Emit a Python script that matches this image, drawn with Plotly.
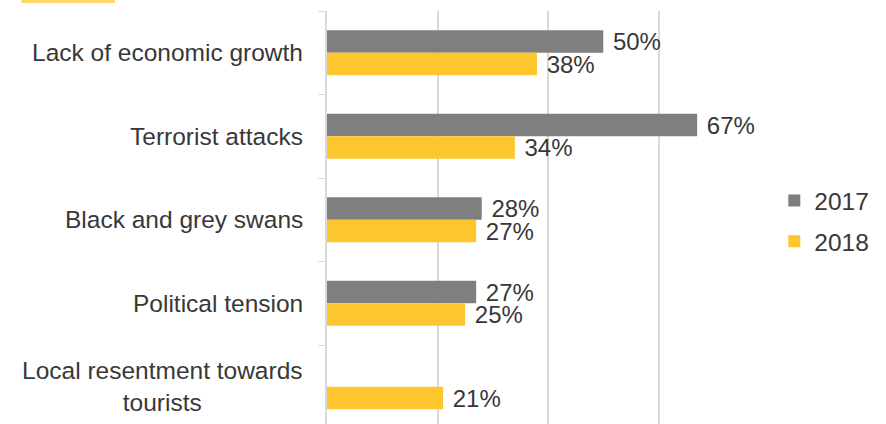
import plotly.graph_objects as go

categories = ["Lack of economic growth", "Terrorist attacks", "Black and grey swans",
              "Political tension", "Local resentment towards<br>tourists"]
values_2017 = [50, 67, 28, 27, None]
values_2018 = [38, 34, 27, 25, 21]
series_names = ["2017", "2018"]
colors = ["#7f7f7f", "#fec62e"]

FONT = "Liberation Sans, Arial, sans-serif"
TXT = "#383838"

fig = go.Figure()
for name, vals, col in zip(series_names, [values_2017, values_2018], colors):
    fig.add_trace(go.Bar(
        y=categories, x=vals, name=name, orientation="h",
        marker=dict(color=col, line=dict(width=0)),
        texttemplate=" %{x}%", textposition="outside", constraintext="none",
        cliponaxis=False, textfont=dict(family=FONT, size=24, color=TXT),
        legendgroup=name, hoverinfo="skip",
    ))

for c in categories:
    fig.add_annotation(x=0, xref="paper", y=c, yref="y", text=c, showarrow=False,
                       xanchor="right", yanchor="middle", align="center", xshift=-22,
                       font=dict(family=FONT, size=24.5, color=TXT))

fig.add_shape(type="rect", xref="paper", yref="paper", x0=-0.691, x1=-0.48,
              y0=1.0194, y1=1.03, fillcolor="#fed66a", line=dict(width=0), layer="above")

fig.update_layout(
    width=886, height=424,
    margin=dict(l=327, r=117, t=11, b=0, pad=0),
    plot_bgcolor="white", paper_bgcolor="white",
    barmode="group", bargap=0.461, bargroupgap=0,
    showlegend=True,
    legend=dict(x=1.012, xanchor="left", y=0.4915, yanchor="middle",
                font=dict(family=FONT, size=24.5, color=TXT),
                tracegroupgap=6, bgcolor="rgba(0,0,0,0)"),
    xaxis=dict(range=[0, 80], dtick=20, showticklabels=False, showgrid=True,
               gridcolor="#d9d9d9", gridwidth=1.5, zeroline=False, showline=False),
    yaxis=dict(categoryorder="array", categoryarray=categories,
               range=[4.446, -0.5], showticklabels=False, showline=True,
               linecolor="#d9d9d9", linewidth=1.5, ticks="outside",
               tickson="boundaries", ticklen=7, tickcolor="#d9d9d9", showgrid=False),
)

fig.write_html("out.html")
